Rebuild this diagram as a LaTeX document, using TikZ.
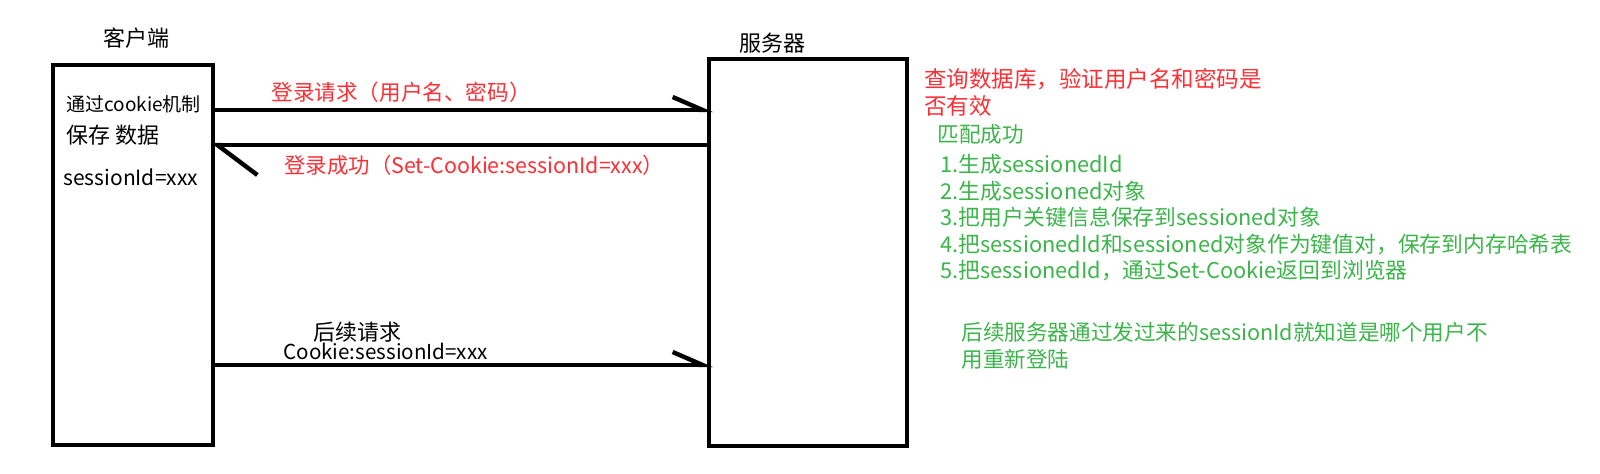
\documentclass[tikz,border=0pt]{standalone}
\usepackage{fontspec}
\setmainfont{Noto Sans CJK SC}
\usepackage{xcolor}
\usetikzlibrary{arrows.meta,positioning}

\definecolor{loginred}{HTML}{FF2E34}
\definecolor{stepgreen}{HTML}{3BB54A}

\begin{document}
\begin{tikzpicture}[
  x=0.5pt, y=-0.5pt,
  box/.style={draw, line width=1.75pt, inner sep=0pt},
  lbl/.style={inner sep=0pt, anchor=west},
  arr/.style={line width=2pt, shorten >=-3pt, -{Straight Barb[harpoon, length=15pt, width=13pt, line width=2.2pt]}},
  backarr/.style={line width=2pt, shorten >=-2pt, -{Straight Barb[harpoon, length=20pt, width=30pt, line width=2.2pt]}}
]
\useasboundingbox (0,0) rectangle (1600,474);

% the two parties
\node[box, minimum width=80pt, minimum height=190pt] (client) at (133,255) {};
\node[box, minimum width=99pt, minimum height=193.5pt] (server) at (808,252.5) {};
\node[font=\fontsize{11}{13}\selectfont] (clienttitle) at (136,38) {客户端};
\node[font=\fontsize{11}{13}\selectfont] (servertitle) at (772,43) {服务器};

% what the client keeps
\node[lbl, font=\fontsize{9.5}{11}\selectfont] (store) at (66,104) {通过cookie机制};
\node[lbl, font=\fontsize{11}{13}\selectfont] (storedata) at (66,135) {保存 数据};
\node[lbl, font=\fontsize{10.5}{12}\selectfont] (sid) at (63,177) {sessionId=xxx};

% messages
\draw[arr] (client.east |- 0,110) -- (server.west |- 0,110);
\draw[backarr] (server.west |- 0,145) -- (client.east |- 0,145);
\draw[arr] (client.east |- 0,365) -- (server.west |- 0,365);

\node[lbl, text=loginred, font=\fontsize{10.8}{13}\selectfont] (loginreq) at (271,92) {登录请求（用户名、密码）};
\node[lbl, text=loginred, font=\fontsize{10.7}{13}\selectfont] (loginok) at (284,165) {登录成功（Set-Cookie:sessionId=xxx）};
\node[font=\fontsize{11}{13}\selectfont] (nextreq) at (357,332) {后续请求};
\node[lbl, font=\fontsize{10.3}{12}\selectfont] (cookie) at (283,351) {Cookie:sessionId=xxx};

% server side notes
\node[lbl, align=left, text=loginred, font=\fontsize{11.25}{13.5}\selectfont] (check) at (924,92.5)
  {查询数据库，验证用户名和密码是\\否有效};
\node[lbl, text=stepgreen, font=\fontsize{10.8}{13}\selectfont] (match) at (937,134) {匹配成功};
\node[lbl, align=left, text=stepgreen, font=\fontsize{10.9}{13.25}\selectfont] (steps) at (940,218)
  {1.生成sessionedId\\
   2.生成sessioned对象\\
   3.把用户关键信息保存到sessioned对象\\
   4.把sessionedId和sessioned对象作为键值对，保存到内存哈希表\\
   5.把sessionedId，通过Set-Cookie返回到浏览器};
\node[lbl, align=left, text=stepgreen, font=\fontsize{10.8}{13.5}\selectfont] (later) at (961,345.5)
  {后续服务器通过发过来的sessionId就知道是哪个用户不\\用重新登陆};
\end{tikzpicture}
\end{document}
